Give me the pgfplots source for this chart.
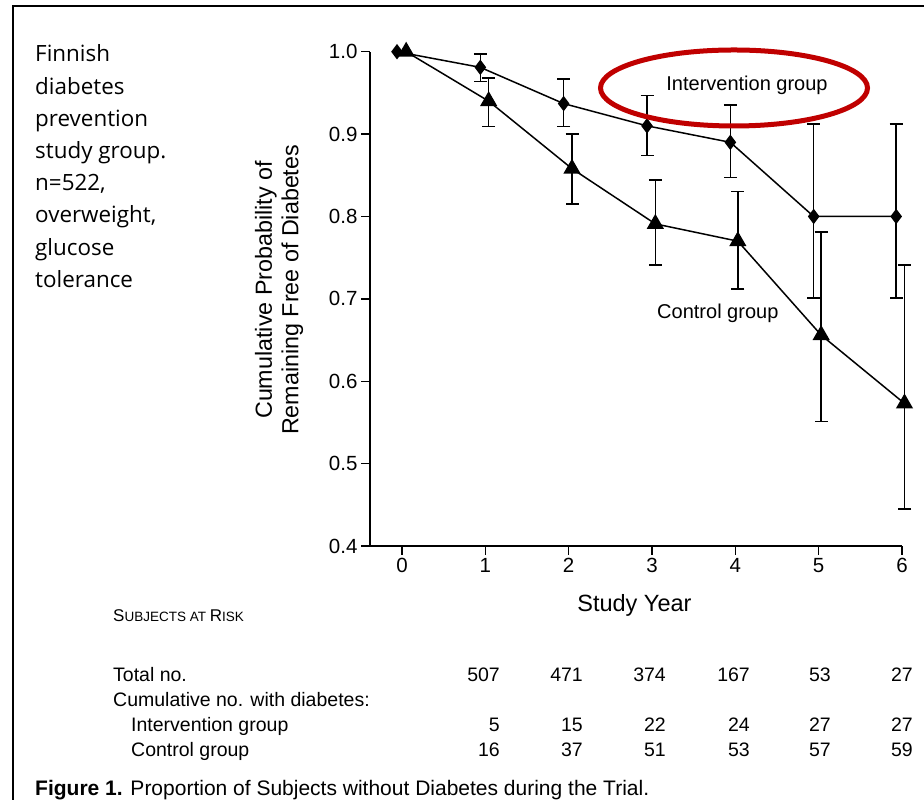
\documentclass[border=0pt]{standalone}
\usepackage{fontspec}
\setmainfont{Liberation Sans}
\newfontfamily\leftfont{Open Sans}
\usepackage{pgfplots}
\pgfplotsset{compat=1.18}
\usepackage{pgfplotstable}
\definecolor{annred}{RGB}{192,0,0}

\pgfplotstableread{
x y ep em
-0.06 1.000 0 0
0.94 0.981 0.016 0.017
1.94 0.937 0.030 0.028
2.94 0.910 0.037 0.036
3.94 0.890 0.045 0.043
4.94 0.800 0.112 0.099
5.93 0.800 0.112 0.099
}\intervention

\pgfplotstableread{
x y ep em
0.05 1.000 0 0
1.04 0.940 0.028 0.031
2.04 0.858 0.042 0.043
3.04 0.791 0.053 0.050
4.03 0.770 0.060 0.058
5.03 0.656 0.125 0.105
6.03 0.573 0.168 0.128
}\control

\begin{document}
\begin{tikzpicture}[x=1pt,y=1pt]
\useasboundingbox (0,0) rectangle (924,800);
\fill[white] (0,0) rectangle (924,800);
\draw[line width=2.5pt] (13,0) -- (13,794) -- (924,794);

% left note
\begin{scope}[every node/.style={anchor=base west, inner sep=0pt, font=\leftfont\fontsize{22.4}{22.4}\selectfont}]
\node at (35,738) {Finnish};
\node at (35,705.8) {diabetes};
\node at (35,673.6) {prevention};
\node at (35,641.4) {study group.};
\node at (35,609.2) {n=522,};
\node at (35,577) {overweight,};
\node at (35,544.8) {glucose};
\node at (35,512.6) {tolerance};
\end{scope}

\begin{axis}[
  scale only axis, width=532pt, height=494.3pt,
  at={(370pt,254pt)}, anchor=south west,
  xmin=-0.384, xmax=6, ymin=0.4, ymax=1.0,
  axis lines=left, axis line style={-, line width=1.4pt},
  tick style={line width=1.4pt, black}, major tick length=9pt, tick align=outside,
  xtick={0,1,2,3,4,5,6}, ytick={0.4,0.5,0.6,0.7,0.8,0.9,1.0},
  yticklabel style={/pgf/number format/.cd, fixed, fixed zerofill, precision=1, assume math mode=true},
  xticklabel style={/pgf/number format/assume math mode=true},
  tick label style={font=\fontsize{20.5}{20.5}\selectfont, text=black},
  clip=false,
  xlabel={Study Year},
  xlabel style={at={(axis description cs:0.497,-0.121)}, anchor=center, font=\fontsize{23.5}{23.5}\selectfont},
  ylabel={Cumulative Probability of\\Remaining Free of Diabetes},
  ylabel style={at={(axis description cs:-0.171,0.518)}, anchor=center, align=center, font=\fontsize{23.3}{26.5}\selectfont},
]
% intervention
\addplot[black, line width=1.5pt, mark=diamond*, mark size=6.5pt, mark options={solid}] table[x=x,y=y]{\intervention};
\addplot[draw=none, mark=none, forget plot, skip coords between index={0}{1},
  error bars/.cd, y dir=both, y explicit,
  error bar style={line width=1.5pt, black},
  error mark options={rotate=90, mark size=6.5pt, line width=1.5pt, black}]
  table[x=x,y=y,y error plus=ep,y error minus=em]{\intervention};
% control
\addplot[black, line width=1.5pt, mark=triangle*, mark size=8.5pt, mark options={solid}] table[x=x,y=y]{\control};
\addplot[draw=none, mark=none, forget plot, skip coords between index={0}{1},
  error bars/.cd, y dir=both, y explicit,
  error bar style={line width=1.5pt, black},
  error mark options={rotate=90, mark size=6.5pt, line width=1.5pt, black}]
  table[x=x,y=y,y error plus=ep,y error minus=em]{\control};

\node[font=\fontsize{20}{20}\selectfont] at (axis cs:4.14,0.9595) {Intervention group};
\node[font=\fontsize{20}{20}\selectfont] at (axis cs:3.79,0.6825) {Control group};
\end{axis}

\draw[annred, line width=5pt] (734pt,712pt) ellipse [x radius=133.5pt, y radius=38pt];

% subjects at risk table
\begin{scope}[every node/.style={inner sep=0pt, font=\fontsize{19.5}{19.5}\selectfont}]
\node[anchor=base west] at (113,178) {{\fontsize{17}{17}\selectfont S}{\fontsize{13.5}{13.5}\selectfont UBJECTS AT }{\fontsize{17}{17}\selectfont R}{\fontsize{13.5}{13.5}\selectfont ISK}};
\node[anchor=base west] at (113,118) {Total no.};
\node[anchor=base west] at (113,93) {Cumulative no. with diabetes:};
\node[anchor=base west] at (131,68) {Intervention group};
\node[anchor=base west] at (131,43) {Control group};
\foreach \xx/\a/\b/\c in {500/507/5/16, 583/471/15/37, 666/374/22/51, 750/167/24/53, 831/53/27/57, 913/27/27/59} {
  \node[anchor=base east] at (\xx,118) {\a};
  \node[anchor=base east] at (\xx,68) {\b};
  \node[anchor=base east] at (\xx,43) {\c};
}
\end{scope}
\node[anchor=base west, inner sep=0pt, font=\fontsize{21}{21}\selectfont] at (35,4) {\textbf{Figure 1.} Proportion of Subjects without Diabetes during the Trial.};
\end{tikzpicture}
\end{document}
